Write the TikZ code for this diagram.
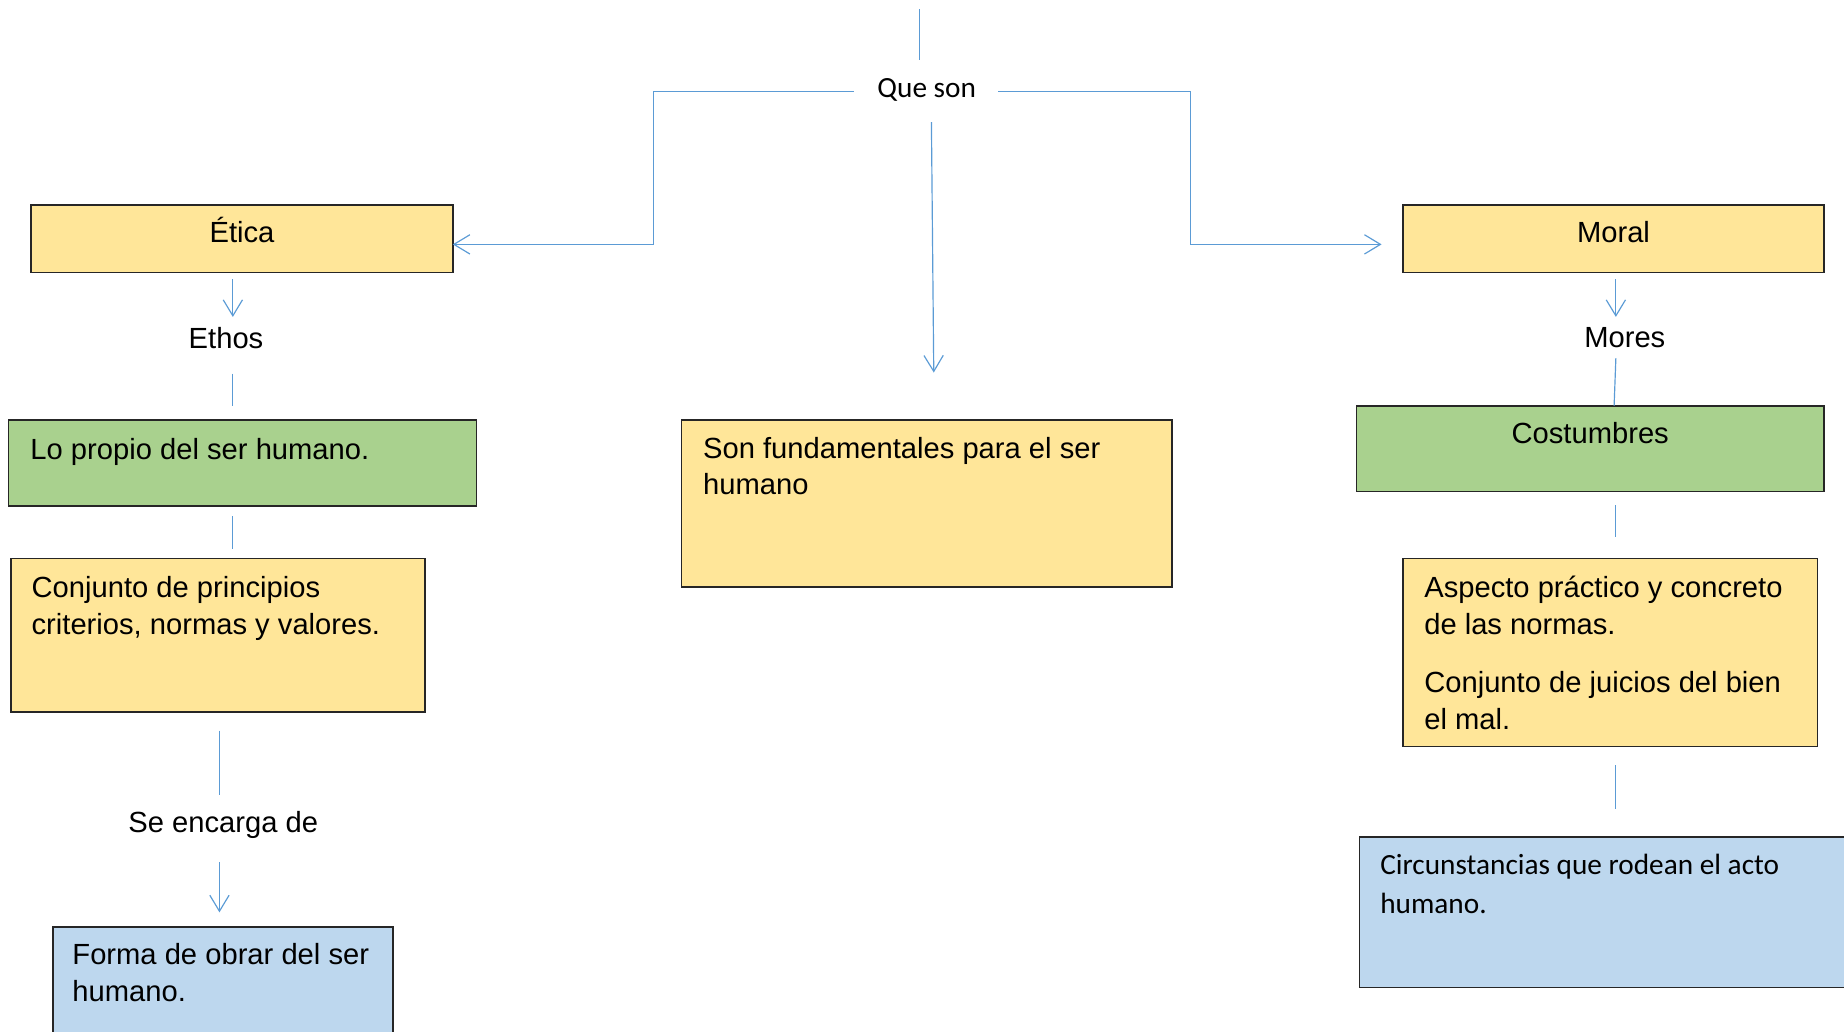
\documentclass[tikz,border=0pt]{standalone}
\usepackage{fontspec}
\setmainfont{Liberation Sans}
\newfontfamily\calib{Carlito}
\usetikzlibrary{arrows.meta,fit}
\definecolor{boxyellow}{HTML}{FFE699}
\definecolor{boxgreen}{HTML}{A9D18E}
\definecolor{boxblue}{HTML}{BDD7EE}
\definecolor{linkblue}{HTML}{5B9BD5}
\newcommand\fstrut{\rule{0pt}{12pt}}
\begin{document}
\begin{tikzpicture}[x=0.5pt,y=-0.5pt,
  box/.style={draw=black!85,line width=0.7pt,rectangle,inner sep=0pt},
  lbl/.style={anchor=base,inner sep=0pt,font=\fontsize{12.4}{15.5}\selectfont},
  clbl/.style={anchor=base,inner sep=0pt,font=\calib\fontsize{12.45}{16.5}\selectfont},
  para/.style={anchor=north west,inner sep=0pt,align=left,font=\fontsize{12.4}{15.5}\selectfont},
  cpara/.style={anchor=north west,inner sep=0pt,align=left,font=\calib\fontsize{12.45}{16.5}\selectfont},
  conn/.style={draw=linkblue,line width=0.5pt},
  arr/.style={conn,-{Straight Barb[length=6.8pt,width=8.2pt]}}]
\useasboundingbox (0,0) rectangle (1568,876.7);
\clip (0,0) rectangle (1568,876.7);
\begin{scope}[yshift=-0.4pt]
% boxes
\node[box,fill=boxyellow,fit={(26.5,173.7)(385,231)}] (etica) {};
\node[box,fill=boxyellow,fit={(1192.8,173.7)(1551.1,231)}] (moral) {};
\node[box,fill=boxgreen,fit={(7.1,356.6)(405.3,429.4)}] (propio) {};
\node[box,fill=boxyellow,fit={(579.6,356.6)(996.7,498.1)}] (fund) {};
\node[box,fill=boxgreen,fit={(1153.4,344.4)(1551.1,417.2)}] (cost) {};
\node[box,fill=boxyellow,fit={(9.2,474.1)(361.4,604.6)}] (conj) {};
\node[box,fill=boxyellow,fit={(1192.8,474.1)(1545.5,633.9)}] (asp) {};
\node[box,fill=boxblue,fit={(44.9,787.4)(333.9,910)}] (forma) {};
\node[box,fill=boxblue,fit={(1156,710.8)(1600,839)}] (circ) {};

% texts
\node[clbl] (queson) at (788,82.2) {Que son};
\node[lbl] (eticaT) at (205.75,205.5) {Ética};
\node[lbl] (moralT) at (1372,205.5) {Moral};
\node[lbl] (ethos) at (192.2,295.6) {Ethos};
\node[lbl] (mores) at (1381.6,294.8) {Mores};
\node[lbl] (costT) at (1352.2,376) {Costumbres};
\node[lbl] (encarga) at (189.9,706.8) {Se encarga de};
\node[para] (propioT) at (25.5,365.7) {\fstrut Lo propio del ser humano.};
\node[para] (fundT) at (597.5,364.3) {\fstrut Son fundamentales para el ser\\humano};
\node[para] (conjT) at (26.5,483.2) {\fstrut Conjunto de principios\\criterios, normas y valores.};
\node[para] (aspT) at (1210.7,483.2) {\fstrut Aspecto práctico y concreto\\de las normas.\\[9.3pt]Conjunto de juicios del bien\\el mal.};
\node[para] (formaT) at (61.2,795.1) {\fstrut Forma de obrar del ser\\humano.};
\node[cpara] (circT) at (1173.3,718.8) {\fstrut Circunstancias que rodean el acto\\humano.};

% connector end points
\coordinate (t1) at (782,7);
\coordinate (t2) at (782,50);
\coordinate (qL) at (726,77);
\coordinate (cL) at (555.5,142);
\coordinate (eticaIn) at (385,207);
\coordinate (qR) at (848.7,77);
\coordinate (cR) at (1012.6,142);
\coordinate (moralIn) at (1174.8,207);
\coordinate (qD) at (792,103);
\coordinate (fundIn) at (794,316);
\coordinate (e1) at (198,236.7);
\coordinate (e2) at (198,268.7);
\coordinate (e3) at (198,317);
\coordinate (e4) at (198,344.4);
\coordinate (e5) at (197.5,438);
\coordinate (e6) at (197.5,466);
\coordinate (e7) at (186.6,620.4);
\coordinate (e8) at (186.6,675.1);
\coordinate (e9) at (186.6,732.4);
\coordinate (e10) at (186.6,775);
\coordinate (m1) at (1374,236.7);
\coordinate (m2) at (1374,268.7);
\coordinate (m3) at (1374,303.8);
\coordinate (m4) at (1372.5,344.4);
\coordinate (m5) at (1374,429);
\coordinate (m6) at (1374,456);
\coordinate (m7) at (1374,649.7);
\coordinate (m8) at (1374,686.7);

% connectors
\draw[conn] (t1) -- (t2);
\draw[arr] (qL) -| (cL) |- (eticaIn);
\draw[arr] (qR) -| (cR) |- (moralIn);
\draw[arr] (qD) -- (fundIn);
\draw[arr] (e1) -- (e2);
\draw[conn] (e3) -- (e4);
\draw[conn] (e5) -- (e6);
\draw[conn] (e7) -- (e8);
\draw[arr] (e9) -- (e10);
\draw[arr] (m1) -- (m2);
\draw[conn] (m3) -- (m4);
\draw[conn] (m5) -- (m6);
\draw[conn] (m7) -- (m8);
\end{scope}
\end{tikzpicture}
\end{document}
